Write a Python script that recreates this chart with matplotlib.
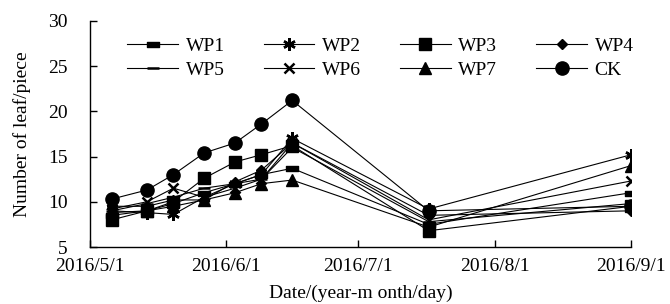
import matplotlib
matplotlib.use("Agg")
import matplotlib.pyplot as plt
from matplotlib.path import Path
from datetime import date

plt.rcParams['font.family'] = ['Liberation Serif', 'DejaVu Serif']

# sampling dates
dates = [date(2016, 5, 6), date(2016, 5, 14), date(2016, 5, 20), date(2016, 5, 27),
         date(2016, 6, 3), date(2016, 6, 9), date(2016, 6, 16), date(2016, 7, 17),
         date(2016, 9, 1)]

wp1 = [8.5, 9.0, 9.8, 11.0, 12.0, 13.0, 13.7, 7.5, 11.0]
wp2 = [9.0, 8.8, 8.6, 10.5, 12.0, 13.0, 17.0, 9.2, 15.2]
wp3 = [8.0, 9.0, 10.0, 12.6, 14.4, 15.2, 16.2, 6.8, 9.5]
wp4 = [9.5, 9.5, 10.2, 10.2, 12.2, 13.5, 16.5, 8.5, 9.0]
wp5 = [9.0, 9.8, 10.5, 11.5, 12.0, 12.5, 16.0, 7.8, 9.8]
wp6 = [9.2, 10.0, 11.5, 10.5, 11.5, 12.5, 16.5, 8.0, 12.3]
wp7 = [8.8, 9.0, 9.5, 10.2, 11.0, 12.0, 12.4, 7.2, 14.0]
ck = [10.3, 11.3, 13.0, 15.4, 16.5, 18.6, 21.2, 9.0, 9.5]

tick_dates = [date(2016, 5, 1), date(2016, 6, 1), date(2016, 7, 1),
              date(2016, 8, 1), date(2016, 9, 1)]
tick_labels = ["2016/5/1", "2016/6/1", "2016/7/1", "2016/8/1", "2016/9/1"]

# wide flat bar marker for WP1
bar = Path([(-1, -0.4), (1, -0.4), (1, 0.4), (-1, 0.4), (-1, -0.4)],
           [Path.MOVETO, Path.LINETO, Path.LINETO, Path.LINETO, Path.CLOSEPOLY])

series = [
    ("WP1", wp1, bar, 9),
    ("WP2", wp2, (6, 2, 0), 9),
    ("WP3", wp3, "s", 8),
    ("WP4", wp4, "D", 5.5),
    ("WP5", wp5, "_", 8),
    ("WP6", wp6, "x", 7),
    ("WP7", wp7, "^", 8),
    ("CK", ck, "o", 9.5),
]

fig = plt.figure(figsize=(6.7, 3.04), dpi=100)
ax = fig.add_axes([0.134, 0.1875, 0.808, 0.744])

handles = {}
for name, vals, mk, ms in series:
    mew = 1.8 if mk in ("_", "x") or isinstance(mk, tuple) else 1
    h, = ax.plot(dates, vals, color="black", lw=0.8, marker=mk, markersize=ms,
                 markerfacecolor="black", markeredgecolor="black", markeredgewidth=mew,
                 label=name)
    handles[name] = h

ax.set_xlim(date(2016, 5, 1), date(2016, 9, 1))
ax.set_ylim(5, 30)
ax.set_yticks([5, 10, 15, 20, 25, 30])
ax.set_xticks(tick_dates)
ax.set_xticklabels(tick_labels)

for s in ("top", "right"):
    ax.spines[s].set_visible(False)
for s in ("left", "bottom"):
    ax.spines[s].set_linewidth(1.0)
ax.tick_params(direction="in", length=5, width=1, labelsize=14)
ax.tick_params(axis="x", pad=8)
ax.tick_params(axis="y", pad=16)

ax.set_xlabel("Date/(year-m onth/day)", fontsize=14, labelpad=7)
ax.set_ylabel("Number of leaf/piece", fontsize=14, labelpad=12)

order = ["WP1", "WP5", "WP2", "WP6", "WP3", "WP7", "WP4", "CK"]
ax.legend([handles[n] for n in order], order, ncol=4, frameon=False, fontsize=14,
          loc="upper left", bbox_to_anchor=(0.055, 0.96), handlelength=2.6,
          handletextpad=0.4, columnspacing=2.0, labelspacing=0.3,
          borderaxespad=0.0)

fig.savefig("out.png", dpi=100)
